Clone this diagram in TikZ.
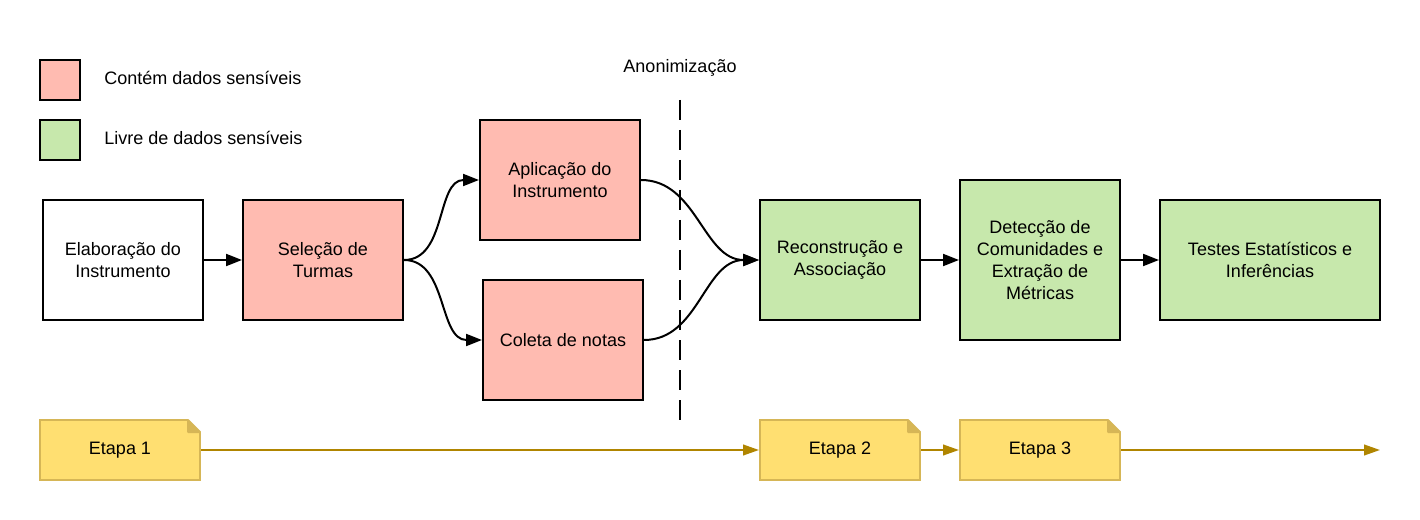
\documentclass[tikz,border=0pt]{standalone}
\usepackage{fontspec}
\setmainfont{Liberation Sans}
\usepackage{xcolor}
\usepackage{tikz}
\usetikzlibrary{shapes,arrows.meta,positioning}
\definecolor{sensivel}{HTML}{FFBBB1}
\definecolor{livre}{HTML}{C7E8AC}
\definecolor{notafundo}{HTML}{FFDF71}
\definecolor{notaborda}{HTML}{D6B656}
\definecolor{linhaetapa}{HTML}{B08500}
\tikzstyle{process} = [rectangle, draw, line width=1.5pt, align=center, minimum width=120pt, minimum height=90pt]
\tikzstyle{legenda} = [rectangle, draw, line width=1.5pt, minimum size=30pt]
\tikzstyle{etapa} = [rectangle, draw=notaborda, fill=notafundo, line width=1.5pt, minimum width=120pt, minimum height=45pt]
\tikzstyle{line} = [draw, line width=1.5pt, -{Triangle[length=12pt,width=9pt]}]
\tikzstyle{linha etapa} = [draw=linhaetapa, line width=1.5pt, -{Triangle[length=12pt,width=8pt]}]

\begin{document}
\begin{tikzpicture}[x=0.75pt, y=-0.75pt, node distance=28.5pt,
    every node/.style={font=\fontsize{13.5}{16.5}\selectfont}]
    \useasboundingbox (0,0) rectangle (1420,520);

    % legenda
    \node [legenda, fill=sensivel] (leg1) at (60,80) {};
    \node [legenda, fill=livre, below=13.5pt of leg1] (leg2) {};
    \node [right=14pt of leg1, yshift=1.5pt] (txt1) {Contém dados sensíveis};
    \node [right=14pt of leg2, yshift=1.5pt] (txt2) {Livre de dados sensíveis};

    % fluxo
    \node [process] (elab) at (123,260) {Elaboração do\\Instrumento};
    \node [process, fill=sensivel, right=of elab] (selecao) {Seleção de\\Turmas};
    \node [process, fill=sensivel] (aplic) at (560,180) {Aplicação do\\Instrumento};
    \node [process, fill=sensivel] (coleta) at (563,340) {Coleta de notas};
    \node [process, fill=livre] (recon) at (840,260) {Reconstrução e\\Associação};
    \node [process, fill=livre, right=of recon, minimum height=120pt] (detec) {Detecção de\\Comunidades e\\Extração de\\Métricas};
    \node [process, fill=livre, right=of detec, minimum width=165pt] (testes) {Testes Estatísticos e\\Inferências};

    % anonimizacao
    \node (anon) at (680,68) {Anonimização};
    \coordinate (anontopo) at (680,100);
    \coordinate (anonbase) at (680,420);
    \draw [line width=1.5pt, dash pattern=on 15pt off 7.5pt] (anontopo) -- (anonbase);

    % etapas
    \node [etapa] (etapa1) at (120,450) {Etapa 1};
    \node [etapa] (etapa2) at (840,450) {Etapa 2};
    \node [etapa, right=of etapa2] (etapa3) {Etapa 3};
    \coordinate (fim) at (1380,450);
    \foreach \n in {etapa1,etapa2,etapa3} {
        \fill [white] ([xshift=-9.75pt,yshift=-0.75pt]\n.north east) -- ([xshift=-9.75pt,yshift=2pt]\n.north east)
            -- ([xshift=2pt,yshift=2pt]\n.north east) -- ([xshift=2pt,yshift=-9.75pt]\n.north east)
            -- ([xshift=-0.75pt,yshift=-9.75pt]\n.north east) -- cycle;
        \filldraw [fill=notaborda, draw=notaborda, line width=1.5pt, line join=round]
            ([xshift=-9.75pt,yshift=-0.75pt]\n.north east) -- ([xshift=-9.75pt,yshift=-9.75pt]\n.north east)
            -- ([xshift=-0.75pt,yshift=-9.75pt]\n.north east) -- cycle;
    }

    \path [line] (elab) -- (selecao);
    \path [line] (selecao.east) to[out=0, in=180] (aplic.west);
    \path [line] (selecao.east) to[out=0, in=180] (coleta.west);
    \path [line] (aplic.east) to[out=0, in=180] (recon.west);
    \path [line] (coleta.east) to[out=0, in=180] (recon.west);
    \path [line] (recon) -- (detec);
    \path [line] (detec) -- (testes);

    \path [linha etapa] (etapa1) -- (etapa2);
    \path [linha etapa] (etapa2) -- (etapa3);
    \path [linha etapa] (etapa3) -- (fim);
\end{tikzpicture}
\end{document}
